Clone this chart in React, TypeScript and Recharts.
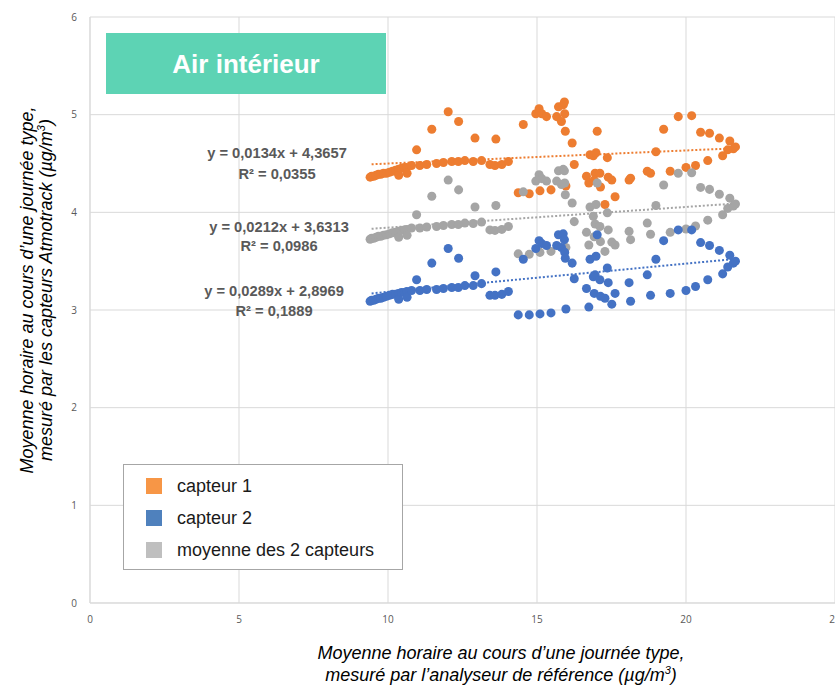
import React from "react";
import { ScatterChart, Scatter, XAxis, YAxis, ZAxis, CartesianGrid, ReferenceLine } from "recharts";

const refX = [9.40, 9.45, 9.52, 9.60, 9.68, 9.76, 9.85, 9.95, 10.05, 10.15, 10.25, 10.35, 10.36, 10.45, 10.55, 10.63, 10.64, 10.79, 10.96, 11.07, 11.30, 11.47, 11.63, 11.86, 12.02, 12.14, 12.36, 12.37, 12.58, 12.86, 12.92, 13.14, 13.42, 13.59, 13.62, 13.82, 14.04,
  14.37, 14.54, 14.74, 14.96, 15.07, 15.10, 15.16, 15.32, 15.47, 15.66, 15.72, 15.82, 15.88, 15.92, 15.93, 15.95, 15.97, 16.18, 16.25,
  16.66, 16.74, 16.78, 16.89, 16.92, 16.95, 16.98, 17.02, 17.11, 17.13, 17.28, 17.36, 17.39, 17.51, 17.62, 18.09, 18.14, 18.70, 18.81, 18.99, 19.25, 19.47, 19.74, 20.00, 20.19, 20.32, 20.49, 20.73, 20.79, 21.12, 21.23, 21.40, 21.47, 21.59, 21.66];

const capteur1 = [4.36, 4.37, 4.37, 4.38, 4.39, 4.39, 4.40, 4.40, 4.41, 4.42, 4.43, 4.44, 4.38, 4.45, 4.46, 4.46, 4.40, 4.48, 4.64, 4.48, 4.49, 4.85, 4.50, 4.51, 5.03, 4.52, 4.52, 4.93, 4.53, 4.52, 4.76, 4.53, 4.49, 4.48, 4.75, 4.49, 4.52,
  4.20, 4.90, 4.19, 5.01, 5.06, 4.22, 5.01, 4.98, 4.23, 4.98, 5.08, 4.93, 5.10, 5.13, 5.01, 4.83, 4.27, 4.71, 4.49,
  4.37, 4.30, 4.59, 4.58, 4.33, 4.40, 4.61, 4.83, 4.40, 4.26, 4.08, 4.56, 4.36, 4.33, 4.16, 4.33, 4.35, 4.42, 4.40, 4.62, 4.85, 4.42, 4.98, 4.46, 4.99, 4.48, 4.82, 4.53, 4.81, 4.76, 4.58, 4.64, 4.73, 4.65, 4.67];

const capteur2 = [3.09, 3.10, 3.10, 3.11, 3.12, 3.12, 3.13, 3.14, 3.15, 3.16, 3.16, 3.17, 3.11, 3.18, 3.18, 3.19, 3.13, 3.20, 3.31, 3.20, 3.21, 3.48, 3.21, 3.22, 3.63, 3.23, 3.23, 3.53, 3.25, 3.25, 3.35, 3.27, 3.15, 3.15, 3.39, 3.16, 3.19,
  2.95, 3.52, 2.95, 3.63, 3.71, 2.96, 3.68, 3.66, 2.97, 3.66, 3.77, 3.64, 3.78, 3.72, 3.59, 3.53, 3.01, 3.48, 3.32,
  3.22, 3.03, 3.52, 3.34, 3.17, 3.36, 3.55, 3.77, 3.31, 3.14, 3.12, 3.43, 3.28, 3.06, 3.17, 3.28, 3.09, 3.36, 3.15, 3.52, 3.71, 3.17, 3.82, 3.20, 3.82, 3.24, 3.69, 3.31, 3.66, 3.61, 3.37, 3.44, 3.56, 3.48, 3.50];

const moyenne = [3.725, 3.735, 3.735, 3.745, 3.755, 3.755, 3.765, 3.77, 3.78, 3.79, 3.795, 3.805, 3.745, 3.815, 3.82, 3.825, 3.765, 3.84, 3.975, 3.84, 3.85, 4.165, 3.855, 3.865, 4.33, 3.875, 3.875, 4.23, 3.89, 3.885, 4.055, 3.90, 3.82, 3.815, 4.07, 3.825, 3.855,
  3.575, 4.21, 3.57, 4.32, 4.385, 3.59, 4.345, 4.32, 3.60, 4.32, 4.425, 4.285, 4.44, 4.425, 4.30, 4.18, 3.64, 4.095, 3.905,
  3.795, 3.665, 4.055, 3.96, 3.75, 3.88, 4.08, 4.30, 3.855, 3.70, 3.60, 3.995, 3.82, 3.695, 3.665, 3.805, 3.72, 3.89, 3.775, 4.07, 4.28, 3.795, 4.40, 3.83, 4.405, 3.86, 4.255, 3.92, 4.235, 4.185, 3.975, 4.04, 4.145, 4.065, 4.085];

const seriesNames = ["capteur 1", "capteur 2", "moyenne des 2 capteurs"];
const xTicks = [0, 5, 10, 15, 20, 25];
const yTicks = [0, 1, 2, 3, 4, 5, 6];

// trendlines: [slope, intercept] per series (capteur 1, moyenne, capteur 2)
const trendSlopes = [0.0134, 0.0212, 0.0289];
const trendIntercepts = [4.3657, 3.6313, 2.8969];
const trendLabels = ["y = 0,0134x + 4,3657", "y = 0,0212x + 3,6313", "y = 0,0289x + 2,8969"];
const trendR2 = ["R² = 0,0355", "R² = 0,0986", "R² = 0,1889"];
const trendRange = [9.45, 21.66];

const c1Color = "#ED7D31";
const c2Color = "#4472C4";
const mColor = "#A5A5A5";
const trendColors = [c1Color, mColor, c2Color];
const legendColors = ["#F79646", "#4F81BD", "#BFBFBF"];

const toPts = (ys: number[]) => refX.map((x, i) => ({ x, y: ys[i] }));

const eqPos = [
  { cx: 277, y1: 153, y2: 174 },
  { cx: 279, y1: 227, y2: 246 },
  { cx: 274, y1: 291, y2: 311 },
];

const tickStyle = { fill: "#595959", fontSize: 10, fontFamily: "Open Sans, Liberation Sans, Arial, sans-serif" };

export default function App() {
  return (
    <div style={{ position: "absolute", left: 0, top: 0, width: 835, height: 685, overflow: "hidden", background: "#fff" }}>
      <div style={{ position: "absolute", left: 0, top: 0 }}>
        <ScatterChart width={880} height={685} margin={{ top: 17, right: 45, bottom: 0, left: 0 }}>
          <CartesianGrid stroke="#D9D9D9" strokeWidth={1} />
          <XAxis type="number" dataKey="x" domain={[0, 25]} ticks={xTicks} height={82}
            axisLine={{ stroke: "#D9D9D9" }} tickLine={false} tickSize={0} tickMargin={13} tick={tickStyle} allowDataOverflow />
          <YAxis type="number" dataKey="y" domain={[0, 6]} ticks={yTicks} width={90}
            axisLine={{ stroke: "#D9D9D9" }} tickLine={false} tickSize={0} tickMargin={13} tick={tickStyle} allowDataOverflow />
          <ZAxis range={[72, 72]} />
          <Scatter name={seriesNames[0]} data={toPts(capteur1)} fill={c1Color} isAnimationActive={false} />
          <Scatter name={seriesNames[2]} data={toPts(moyenne)} fill={mColor} isAnimationActive={false} />
          <Scatter name={seriesNames[1]} data={toPts(capteur2)} fill={c2Color} isAnimationActive={false} />
          {trendSlopes.map((s, i) => (
            <ReferenceLine key={i} ifOverflow="visible"
              segment={[
                { x: trendRange[0], y: s * trendRange[0] + trendIntercepts[i] },
                { x: trendRange[1], y: s * trendRange[1] + trendIntercepts[i] },
              ]}
              stroke={trendColors[i]} strokeWidth={2} strokeDasharray="2 2" />
          ))}
        </ScatterChart>
      </div>

      {/* Title box */}
      <div style={{ position: "absolute", left: 106, top: 33, width: 280, height: 61, background: "#5DD3B4",
        display: "flex", alignItems: "center", justifyContent: "center", color: "#fff",
        fontFamily: "Liberation Sans, Arial, sans-serif", fontWeight: "bold", fontSize: 26, paddingTop: 1, boxSizing: "border-box" }}>
        Air intérieur
      </div>

      {/* Trend equations */}
      {eqPos.map((p, i) => (
        <React.Fragment key={i}>
          <div style={{ position: "absolute", left: p.cx, top: p.y1, transform: "translate(-50%,-50%)", whiteSpace: "nowrap",
            color: "#595959", fontWeight: "bold", fontSize: 14.7, fontFamily: "Liberation Sans, Arial, sans-serif" }}>{trendLabels[i]}</div>
          <div style={{ position: "absolute", left: p.cx, top: p.y2, transform: "translate(-50%,-50%)", whiteSpace: "nowrap",
            color: "#595959", fontWeight: "bold", fontSize: 14.7, fontFamily: "Liberation Sans, Arial, sans-serif" }}>{trendR2[i]}</div>
        </React.Fragment>
      ))}

      {/* Legend */}
      <div style={{ position: "absolute", left: 123, top: 464, width: 280, height: 106, border: "1px solid #A6A6A6", background: "#fff", boxSizing: "border-box" }}>
        {seriesNames.map((n, i) => (
          <div key={n} style={{ position: "absolute", left: 22, top: [13, 45, 77][i], height: 16, display: "flex", alignItems: "center" }}>
            <div style={{ width: 16, height: 16, background: legendColors[i] }} />
            <span style={{ marginLeft: 15, fontSize: 18, color: "#1a1a1a", fontFamily: "Liberation Sans, Arial, sans-serif", whiteSpace: "nowrap" }}>{n}</span>
          </div>
        ))}
      </div>

      {/* X axis title */}
      <div style={{ position: "absolute", left: 501, top: 664, transform: "translate(-50%,-50%)", textAlign: "center", whiteSpace: "nowrap",
        fontStyle: "italic", fontSize: 18, lineHeight: "22px", color: "#000", fontFamily: "Liberation Sans, Arial, sans-serif" }}>
        Moyenne horaire au cours d’une journée type,<br />mesuré par l’analyseur de référence (µg/m<sup style={{ fontSize: 11, lineHeight: 0 }}>3</sup>)
      </div>

      {/* Y axis title */}
      <div style={{ position: "absolute", left: 37, top: 290, transform: "translate(-50%,-50%) rotate(-90deg)", textAlign: "center", whiteSpace: "nowrap",
        fontStyle: "italic", fontSize: 18, lineHeight: "19px", color: "#000", fontFamily: "Liberation Sans, Arial, sans-serif" }}>
        Moyenne horaire au cours d’une journée type,<br />mesuré par les capteurs Atmotrack (µg/m<sup style={{ fontSize: 11, lineHeight: 0 }}>3</sup>)
      </div>
    </div>
  );
}
